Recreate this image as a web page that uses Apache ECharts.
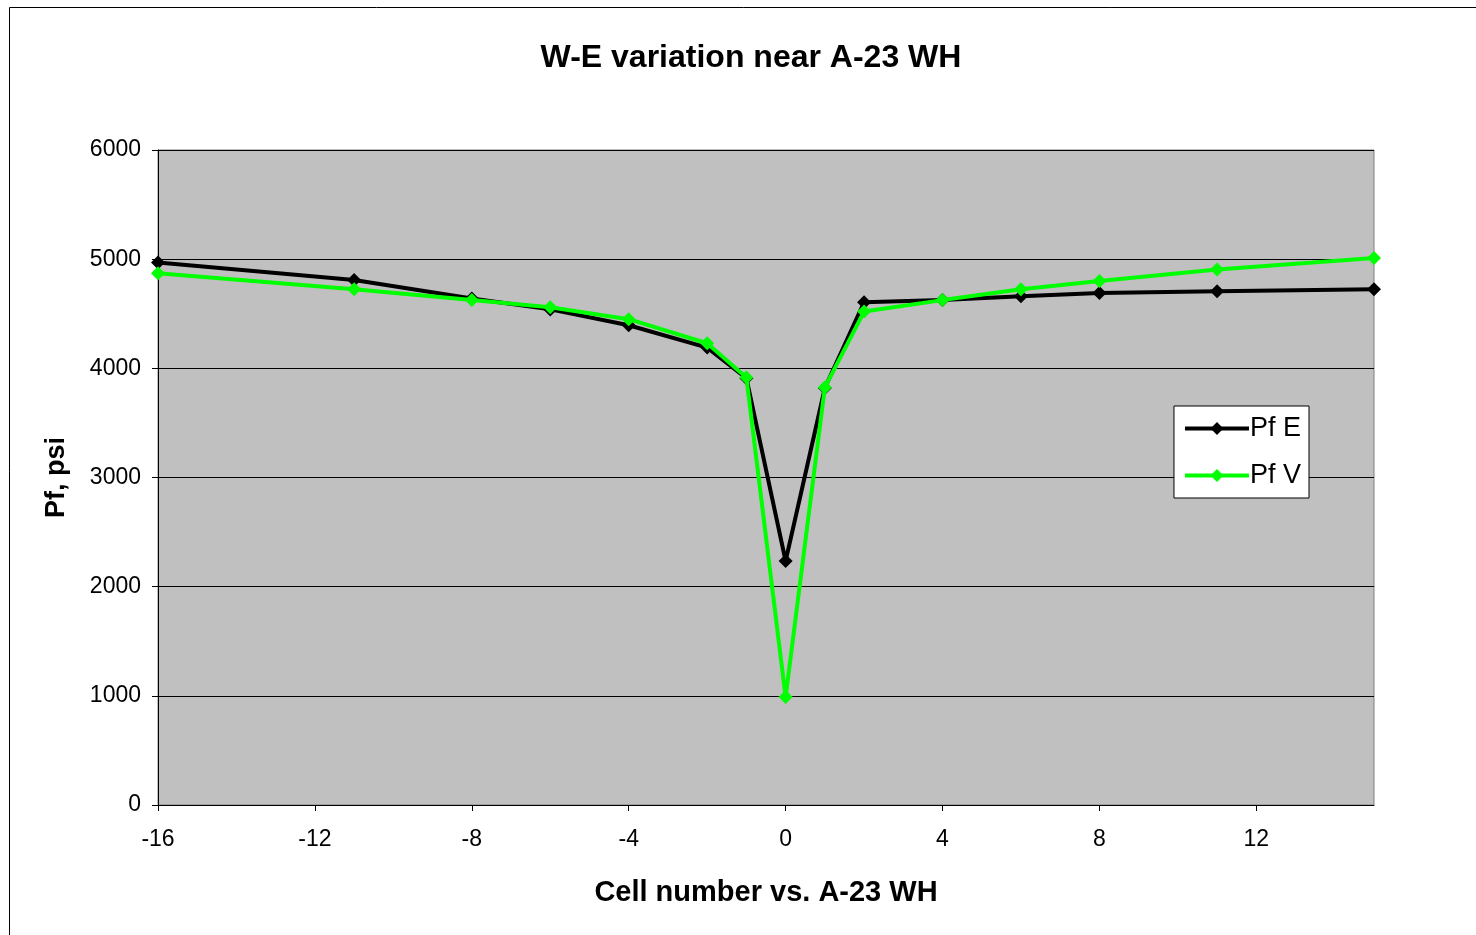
<!DOCTYPE html>
<html>
<head>
<meta charset="utf-8">
<script src="https://cdn.jsdelivr.net/npm/echarts@6/dist/echarts.min.js"></script>
<style>
  html, body { margin: 0; padding: 0; background: #fff; }
  #chart { width: 1476px; height: 935px; }
</style>
</head>
<body>
<div id="chart"></div>
<script>
// Cell offsets relative to the A-23 wellhead
var cells = [-16, -11, -8, -6, -4, -2, -1, 0, 1, 2, 4, 6, 8, 11, 15];
// Fracture pressure, psi
var pfE = [4970, 4810, 4640, 4540, 4395, 4190, 3910, 2235, 3820, 4605, 4625, 4660, 4690, 4705, 4725];
var pfV = [4870, 4725, 4625, 4560, 4450, 4230, 3915, 990, 3825, 4520, 4625, 4725, 4800, 4905, 5010];

var xTicks = { min: -16, max: 15, interval: 4 };
var yTicks = { min: 0, max: 6000, interval: 1000 };

function pairs(xs, ys) {
  return xs.map(function (x, i) { return [x, ys[i]]; });
}

var chart = echarts.init(document.getElementById('chart'));
chart.setOption({
  animation: false,
  backgroundColor: '#ffffff',
  graphic: [{
    type: 'rect',
    shape: { x: 9.5, y: 7.5, width: 1480, height: 940 },
    style: { fill: 'none', stroke: '#000', lineWidth: 1 },
    silent: true,
    z: -1
  }],
  title: {
    text: 'W-E variation near A-23 WH',
    left: 746, top: 37, textAlign: 'center',
    textStyle: { fontFamily: 'Liberation Sans, Arial', fontWeight: 'bold', fontSize: 32, color: '#000' }
  },
  grid: {
    left: 158, top: 150, width: 1216, height: 655,
    show: true, backgroundColor: '#c0c0c0', borderColor: '#808080', borderWidth: 1
  },
  legend: {
    right: 167, top: 406,
    orient: 'vertical',
    backgroundColor: '#ffffff',
    borderColor: '#000', borderWidth: 1,
    padding: [9, 8, 9, 9],
    itemGap: 20,
    itemWidth: 64, itemHeight: 16,
    lineStyle: { width: 4 },
    textStyle: { fontFamily: 'Liberation Sans, Arial', fontSize: 27, color: '#000', padding: [0, 0, 0, -4] },
    data: ['Pf E', 'Pf V']
  },
  xAxis: {
    type: 'value',
    min: xTicks.min, max: xTicks.max, interval: xTicks.interval,
    name: 'Cell number vs. A-23 WH',
    nameLocation: 'middle', nameGap: 73,
    nameTextStyle: { fontFamily: 'Liberation Sans, Arial', fontWeight: 'bold', fontSize: 29, color: '#000' },
    axisLine: { onZero: false, lineStyle: { color: '#000', width: 1 } },
    axisTick: { show: true, length: 6, lineStyle: { color: '#000' } },
    axisLabel: { fontFamily: 'Liberation Sans, Arial', fontSize: 23, color: '#000', margin: 23,
      showMaxLabel: false },
    splitLine: { show: false }
  },
  yAxis: {
    type: 'value',
    min: yTicks.min, max: yTicks.max, interval: yTicks.interval,
    name: 'Pf, psi',
    nameLocation: 'middle', nameGap: 88, nameRotate: 90,
    nameTextStyle: { fontFamily: 'Liberation Sans, Arial', fontWeight: 'bold', fontSize: 27, color: '#000' },
    axisLine: { show: true, onZero: false, lineStyle: { color: '#000', width: 1 } },
    axisTick: { show: true, length: 6, lineStyle: { color: '#000' } },
    axisLabel: { fontFamily: 'Liberation Sans, Arial', fontSize: 23, color: '#000', margin: 17,
      formatter: function (v) { return String(v); } },
    splitLine: { show: true, lineStyle: { color: '#000', width: 1 } }
  },
  series: [{
    name: 'Pf E',
    type: 'line',
    data: pairs(cells, pfE),
    symbol: 'diamond', symbolSize: 14,
    lineStyle: { color: '#000000', width: 4 },
    itemStyle: { color: '#000000' },
    z: 2
  }, {
    name: 'Pf V',
    type: 'line',
    data: pairs(cells, pfV),
    symbol: 'diamond', symbolSize: 14,
    lineStyle: { color: '#00ff00', width: 4 },
    itemStyle: { color: '#00ff00' },
    z: 3
  }]
});
</script>
</body>
</html>
